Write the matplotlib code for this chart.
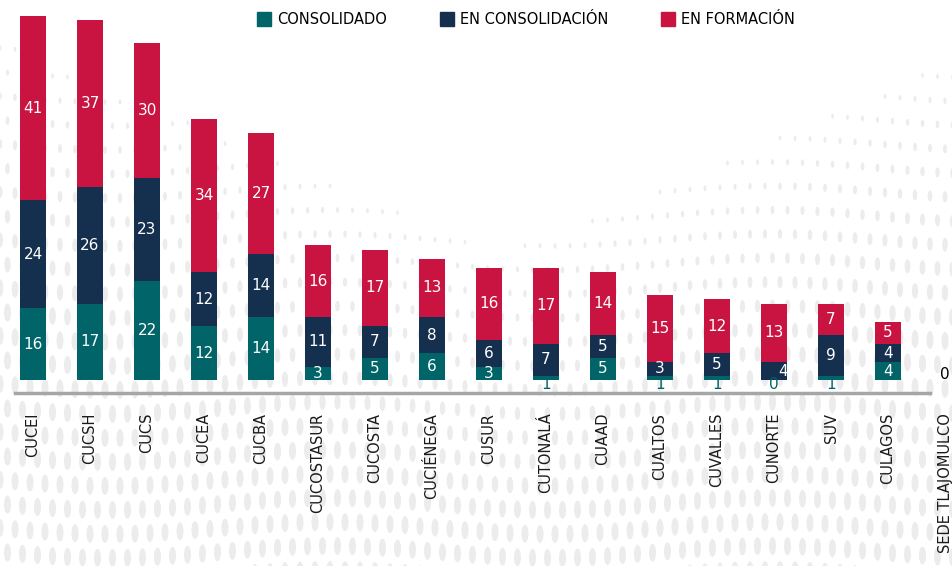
import numpy as np
import matplotlib
matplotlib.use('Agg')
import matplotlib.pyplot as plt
from matplotlib.lines import Line2D
from matplotlib.collections import EllipseCollection

# Data
campus = ['CUCEI', 'CUCSH', 'CUCS', 'CUCEA', 'CUCBA', 'CUCOSTASUR', 'CUCOSTA',
          'CUCIÉNEGA', 'CUSUR', 'CUTONALÁ', 'CUAAD', 'CUALTOS', 'CUVALLES',
          'CUNORTE', 'SUV', 'CULAGOS', 'SEDE TLAJOMULCO']
consolidado = [16, 17, 22, 12, 14, 3, 5, 6, 3, 1, 5, 1, 1, 0, 1, 4, 0]
en_consolidacion = [24, 26, 23, 12, 14, 11, 7, 8, 6, 7, 5, 3, 5, 4, 9, 4, 0]
en_formacion = [41, 37, 30, 34, 27, 16, 17, 13, 16, 17, 14, 15, 12, 13, 7, 5, 0]

series = ['CONSOLIDADO', 'EN CONSOLIDACIÓN', 'EN FORMACIÓN']
colors = ['#006469', '#15304e', '#c91441']

plt.rcParams['font.family'] = ['DejaVu Sans']

fig = plt.figure(figsize=(9.53, 5.66), dpi=100)

# decorative dotted background (pixel coordinates)
bg = fig.add_axes([0, 0, 1, 1], zorder=-1)
bg.set_xlim(0, 953)
bg.set_ylim(566, 0)
bg.axis('off')
gx, gy = np.meshgrid(np.arange(0, 960, 15), np.arange(0, 580, 24))
gx = gx + (np.arange(gx.shape[0])[:, None] % 2) * 7.5
gy = gy + 6 * np.sin(gx / 70.0)
strength = np.clip((gy - 220) / 300 + np.abs(gx - 500) / 700, 0, 1)
keep = strength > 0.12
w = 2 + 5 * strength[keep]
h = 3 + 15 * strength[keep]
bg.add_collection(EllipseCollection(w, h, np.zeros_like(w), units='xy',
                                    offsets=np.column_stack([gx[keep], gy[keep]]),
                                    offset_transform=bg.transData,
                                    facecolors='#ececec', edgecolors='none'))

ax = fig.add_axes([0, 0.3286, 1, 0.6714])
ax.set_xlim(-0.579, 16.14)
ax.set_ylim(0, 84.56)

x = np.arange(len(campus))
bottom = np.zeros(len(campus))
for vals, col in zip([consolidado, en_consolidacion, en_formacion], colors):
    vals = np.array(vals, dtype=float)
    ax.bar(x, vals, width=0.46, bottom=bottom, color=col, clip_on=False)
    for xi, v, b in zip(x, vals, bottom):
        if v >= 2:
            # nudge right when a small teal label sits right below
            dx = 0.16 if (b == 0 and col != colors[0]) else 0
            ax.text(xi + dx, b + v / 2, f'{int(v)}', ha='center', va='center',
                    color='white', fontsize=11)
        elif col == colors[0] and xi < len(campus) - 1:
            # small values sit just under the bar, in teal
            ax.text(xi, -0.9, f'{int(v)}', ha='center', va='center',
                    color=colors[0], fontsize=11, clip_on=False)
    bottom += vals

# total zero label for the last campus
ax.text(x[-1], 1.2, '0', ha='center', va='center', color='black', fontsize=11)

# baseline
ax.plot([-0.316, 15.74], [-2.9, -2.9], color='#a6a6a6', lw=2.5, clip_on=False)

ax.set_xticks(x)
ax.set_xticklabels(campus, rotation=90, va='top', ha='center',
                   fontsize=10.5, color='#1a1a1a')
ax.tick_params(axis='x', length=0, pad=23.5)
ax.set_yticks([])
for s in ax.spines.values():
    s.set_visible(False)
ax.patch.set_alpha(0)

handles = [Line2D([], [], marker='s', ls='', markersize=10, color=c) for c in colors]
fig.legend(handles, series, loc='center', bbox_to_anchor=(0.552, 0.965), ncol=3,
           frameon=False, fontsize=10.5, handletextpad=0.4, columnspacing=3.6,
           handlelength=1.0)

fig.savefig('out.png', dpi=100, facecolor='white')
